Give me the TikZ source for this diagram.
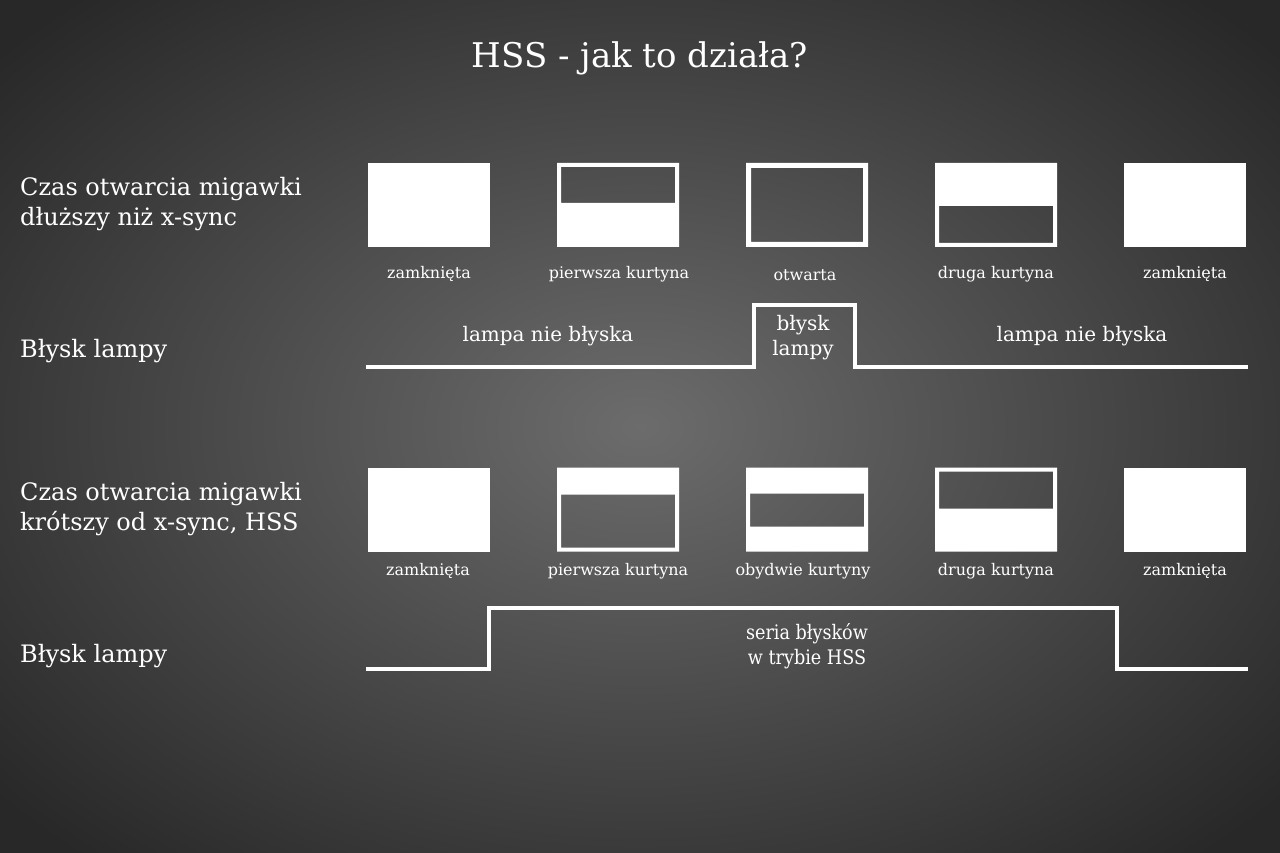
\documentclass[tikz,border=0pt]{standalone}
\usepackage{fontspec}
\setmainfont{DejaVu Serif}
\begin{document}
\begin{tikzpicture}[x=1pt,y=-1pt,
  shut/.style={minimum width=122pt,minimum height=84pt,inner sep=0pt,outer sep=0pt},
  lbl/.style={text=white,font=\fontsize{16}{18}\selectfont,inner sep=0pt},
  side/.style={text=white,font=\fontsize{24}{30}\selectfont,align=left,anchor=west,inner sep=0pt},
  flashtxt/.style={text=white,font=\fontsize{20}{25}\selectfont,align=center,inner sep=0pt},
  pulse/.style={draw=white,line width=4pt,line join=miter}]
\useasboundingbox (0,0) rectangle (1280,853);
\shade[inner color={rgb,255:red,108;green,108;blue,108},outer color={rgb,255:red,40;green,40;blue,40}] (-200,-150) rectangle (1480,1003);
% title
\node[text=white,font=\fontsize{34}{38}\selectfont,inner sep=0pt] (title) at (640,58) {HSS - jak to działa?};
% side labels
\node[side] (s1) at (20,204) {Czas otwarcia migawki\\dłuższy niż x-sync};
\node[side] (s2) at (20,351) {Błysk lampy};
\node[side] (s3) at (20,509) {Czas otwarcia migawki\\krótszy od x-sync, HSS};
\node[side] (s4) at (20,656) {Błysk lampy};
% boxes
\foreach \n/\x in {1/429,2/618,3/807,4/996,5/1185}{
  \node[shut] (a\n) at (\x,205) {};
  \node[shut] (b\n) at (\x,509.5) {};
}
% row 1
\fill[white] (a1.north west) rectangle (a1.south east);
\fill[white,even odd rule] (a2.north west) rectangle (a2.south east) ([shift={(4,4)}]a2.north west) rectangle ([shift={(-4,40)}]a2.north east);
\fill[white,even odd rule] (a3.north west) rectangle (a3.south east) ([shift={(5,5)}]a3.north west) rectangle ([shift={(-5,-5)}]a3.south east);
\fill[white,even odd rule] (a4.north west) rectangle (a4.south east) ([shift={(4,-41)}]a4.south west) rectangle ([shift={(-4,-4)}]a4.south east);
\fill[white] (a5.north west) rectangle (a5.south east);
% row 2
\fill[white] (b1.north west) rectangle (b1.south east);
\fill[white,even odd rule] (b2.north west) rectangle (b2.south east) ([shift={(4,-57)}]b2.south west) rectangle ([shift={(-4,-4)}]b2.south east);
\fill[white,even odd rule] (b3.north west) rectangle (b3.south east) ([shift={(4,26)}]b3.north west) rectangle ([shift={(-4,59)}]b3.north east);
\fill[white,even odd rule] (b4.north west) rectangle (b4.south east) ([shift={(4,4)}]b4.north west) rectangle ([shift={(-4,41)}]b4.north east);
\fill[white] (b5.north west) rectangle (b5.south east);
% labels
\node[lbl] (la1) at (429,274) {zamknięta};
\node[lbl] (la2) at (619,274) {pierwsza kurtyna};
\node[lbl] (la3) at (805,275) {otwarta};
\node[lbl] (la4) at (996,274) {druga kurtyna};
\node[lbl] (la5) at (1185,274) {zamknięta};
\node[lbl] (lb1) at (428,571) {zamknięta};
\node[lbl] (lb2) at (618,571) {pierwsza kurtyna};
\node[lbl] (lb3) at (803,571) {obydwie kurtyny};
\node[lbl] (lb4) at (996,571) {druga kurtyna};
\node[lbl] (lb5) at (1185,571) {zamknięta};
% flash 1
\coordinate (p1) at (366,367);
\coordinate (p2) at (754,367);
\coordinate (p3) at (754,305);
\coordinate (p4) at (855,305);
\coordinate (p5) at (855,367);
\coordinate (p6) at (1248,367);
\draw[pulse] (p1) -- (p2) -- (p3) -- (p4) -- (p5) -- (p6);
\node[flashtxt] (t1) at (548,336) {lampa nie błyska};
\node[flashtxt] (t2) at (803,338) {błysk\\lampy};
\node[flashtxt] (t3) at (1082,336) {lampa nie błyska};
% flash 2
\coordinate (q1) at (366,669);
\coordinate (q2) at (489,669);
\coordinate (q3) at (489,608);
\coordinate (q4) at (1117,608);
\coordinate (q5) at (1117,669);
\coordinate (q6) at (1248,669);
\draw[pulse] (q1) -- (q2) -- (q3) -- (q4) -- (q5) -- (q6);
\node[flashtxt,xscale=0.88] (t4) at (807,646) {seria błysków\\w trybie HSS};
\end{tikzpicture}
\end{document}
